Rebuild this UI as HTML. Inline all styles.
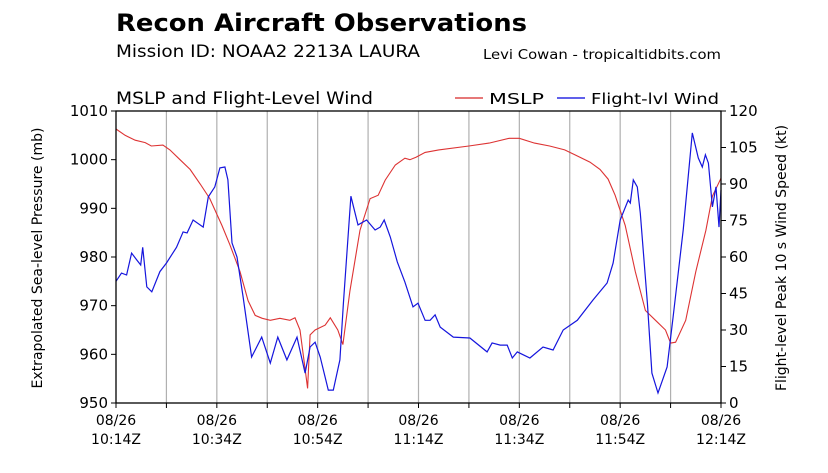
<!DOCTYPE html>
<html><head><meta charset="utf-8"><style>
html,body{margin:0;padding:0;background:#fff;}
svg{display:block;font-family:"DejaVu Sans","Liberation Sans",sans-serif;}
</style></head><body>
<svg id="chart" width="828" height="473" viewBox="0 0 828 473">
<text x="116" y="31" font-size="24" font-weight="bold" textLength="411" lengthAdjust="spacingAndGlyphs">Recon Aircraft Observations</text>
<text x="116" y="57" font-size="17" textLength="304" lengthAdjust="spacingAndGlyphs">Mission ID: NOAA2 2213A LAURA</text>
<text x="483" y="59" font-size="13.5" textLength="238" lengthAdjust="spacingAndGlyphs">Levi Cowan - tropicaltidbits.com</text>
<text x="116" y="104" font-size="16.5" textLength="257" lengthAdjust="spacingAndGlyphs">MSLP and Flight-Level Wind</text>
<g>
<line x1="455" y1="98" x2="483" y2="98" stroke="#d62728" stroke-width="1.3"/>
<text x="489" y="104" font-size="15.5" textLength="55" lengthAdjust="spacingAndGlyphs">MSLP</text>
<line x1="557" y1="98" x2="585" y2="98" stroke="#0000dd" stroke-width="1.3"/>
<text x="591" y="104" font-size="15.5" textLength="128" lengthAdjust="spacingAndGlyphs">Flight-lvl Wind</text>
</g>
<g id="grid"></g>
<g id="series"></g>
<g id="axes"></g>
<text transform="translate(42,258) rotate(-90)" text-anchor="middle" font-size="14">Extrapolated Sea-level Pressure (mb)</text>
<text transform="translate(786,258) rotate(-90)" text-anchor="middle" font-size="14">Flight-level Peak 10 s Wind Speed (kt)</text>
</svg>
<script>
const pTimes=[0,1.8,3.8,5.8,7,9.3,10.7,12.7,14.7,16.7,18.6,21,22.6,24.6,26.2,27.6,29,30.6,32.5,34.5,35.5,36.5,37.5,38,38.5,39.5,41.5,42.5,44,45,46.4,48.4,50.4,52,53.4,55.4,57.3,58.3,59.5,61.3,64,70,74,78,80,83,86,89,91,94,96,97.6,99,101,103,105,107,109,110,111,113,115,117,118.3,120];
const pValues=[1006.3,1005,1004,1003.5,1002.8,1003,1002,1000,998,995,992,986.5,982.5,977,971,968,967.4,967,967.4,967,967.5,965,957,953,964,965,966,967.5,965,962,973,985.5,992,992.7,995.8,998.9,1000.3,1000,1000.5,1001.5,1002,1002.8,1003.4,1004.4,1004.4,1003.4,1002.8,1002,1001,999.5,998,996,992.7,986.5,977,969,967,965,962.3,962.5,967,977,985.5,992.5,996.2];
const wTimes=[0,1.1,2.1,3.1,4.1,4.9,5.3,6.1,7.1,8.7,10,12,13.3,14.1,15.3,17.3,18.3,19.6,20.6,21.6,22.2,23,24,25.2,26.9,28.9,30.6,32.1,33.9,35.9,37.5,38.5,39.5,40.5,42.1,43.1,44.4,45.1,46.6,48,49.7,51.4,52.4,53.2,54.4,55.8,57.3,58.9,59.9,61.3,62.3,63.3,64.3,66.9,70.2,73.6,74.6,76.2,77.6,78.6,79.6,82.1,84.7,86.7,88.7,91.5,94.6,97.4,98.6,100,101.6,102,102.6,103.4,104,105.4,106.3,107.5,109.3,110.5,112.5,114.3,115.5,116.3,116.9,117.5,118.3,119,119.6,120];
const wValues=[50,53.4,52.6,61.6,58.8,56.7,64,47.7,45.7,54,57.5,64,70.3,69.9,75.2,72.3,84.7,88.8,96.6,97,91.7,65.8,60,43.6,18.9,27.1,16.4,27.1,17.7,27.1,12.3,23,25,18.9,5.3,5.3,17.7,41,85,73.2,75.2,71.1,72.3,75.2,68.2,58,49.7,39.5,41,34,34,36.2,31.2,27.1,26.7,21,24.7,23.8,23.8,18.5,21,18.5,23,21.8,30,34,42.3,49.3,57.5,75.2,83.4,82.2,91.7,88.8,78,41,12.3,4.1,14.8,35.3,71.1,111,100.7,97,102,98.6,80.6,88.8,72.3,87.5];
const pTicks=[950,960,970,980,990,1000,1010];
const wTicks=[0,15,30,45,60,75,90,105,120];
const xTickLabels=["10:14Z","10:34Z","10:54Z","11:14Z","11:34Z","11:54Z","12:14Z"];

const L=116,R=721,T=111,B=403,NS="http://www.w3.org/2000/svg";
const xs=t=>L+t/120*(R-L);
const yp=p=>B-(p-950)/60*(B-T);
const yw=w=>B-w/120*(B-T);
function mk(tag,attrs,parent){const e=document.createElementNS(NS,tag);for(const k in attrs)e.setAttribute(k,attrs[k]);parent.appendChild(e);return e;}
const grid=document.getElementById('grid'),series=document.getElementById('series'),axes=document.getElementById('axes');
for(let i=1;i<12;i++){const g=mk('line',{x1:xs(i*10),x2:xs(i*10),y1:T,y2:B,stroke:'#b0b0b0','stroke-width':1.2},grid);

}
const pp=mk('path',{d:pTimes.map((t,i)=>(i?'L':'M')+xs(t).toFixed(1)+','+yp(pValues[i]).toFixed(1)).join(''),fill:'none',stroke:'#dd3333','stroke-width':1.1},series);


const wp=mk('path',{d:wTimes.map((t,i)=>(i?'L':'M')+xs(t).toFixed(1)+','+yw(wValues[i]).toFixed(1)).join(''),fill:'none',stroke:'#1515dd','stroke-width':1.2},series);


const fr=mk('rect',{x:L,y:T,width:R-L,height:B-T,fill:'none',stroke:'#000','stroke-width':1.3},axes);


pTicks.forEach(p=>{const y=yp(p);mk('line',{x1:L-5,x2:L,y1:y,y2:y,stroke:'#000'},axes);
const t=mk('text',{x:L-8,y:y+5,'text-anchor':'end','font-size':15},axes);t.textContent=p;

});
wTicks.forEach(w=>{const y=yw(w);mk('line',{x1:R,x2:R+5,y1:y,y2:y,stroke:'#000'},axes);
const t=mk('text',{x:R+8,y:y+5,'font-size':15},axes);t.textContent=w;

});
for(let i=0;i<=12;i++){const x=xs(i*10);mk('line',{x1:x,x2:x,y1:B,y2:B+5,stroke:'#000'},axes);}
xTickLabels.forEach((lab,i)=>{const x=xs(i*20);
const t1=mk('text',{x:x,y:B+22,'text-anchor':'middle','font-size':14},axes);t1.textContent='08/26';


const t2=mk('text',{x:x,y:B+41,'text-anchor':'middle','font-size':14},axes);t2.textContent=lab;

});
</script>
</body></html>
